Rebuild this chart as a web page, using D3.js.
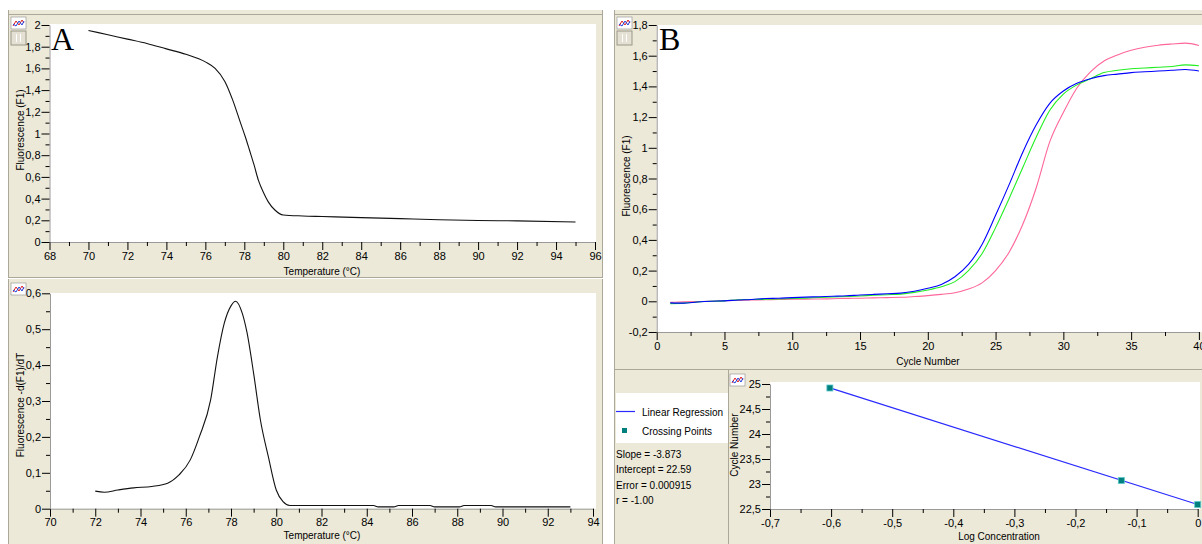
<!DOCTYPE html>
<html>
<head>
<meta charset="utf-8">
<script src="https://cdn.jsdelivr.net/npm/d3@7"></script>
<style>
body { margin: 0; background: #fff; }
svg { display: block; font-family: "Liberation Sans", Arial, sans-serif; }
</style>
</head>
<body>
<svg id="chart" width="1202" height="544"></svg>
<script>
// A (top): melt curve
const meltTemp  = [70, 71, 72, 73, 74, 75, 76, 76.5, 77, 77.4, 77.8, 78.05, 78.26, 78.5, 78.72, 79, 79.23, 79.57, 80, 81, 82, 84, 86, 88, 90, 92, 95];
const meltFluor = [1.95, 1.91, 1.87, 1.83, 1.78, 1.73, 1.66, 1.6, 1.48, 1.31, 1.10, 0.97, 0.85, 0.71, 0.57, 0.45, 0.37, 0.295, 0.249, 0.24, 0.235, 0.225, 0.215, 0.205, 0.198, 0.195, 0.185];

// A (bottom): melt peak -d(F1)/dT
const derivTemp  = [72, 72.4, 73, 73.7, 74.5, 75.2, 75.7, 76.2, 76.6, 77.1, 77.4, 77.7, 78.0, 78.2, 78.5, 78.7, 79.0, 79.3, 79.65, 80.0, 80.3, 80.6, 84.3, 84.5, 85.2, 85.4, 86.8, 87.0, 88.1, 88.3, 89.5, 89.7, 93];
const derivValue = [0.049, 0.046, 0.052, 0.058, 0.062, 0.071, 0.094, 0.136, 0.20, 0.303, 0.423, 0.516, 0.565, 0.578, 0.544, 0.493, 0.377, 0.247, 0.145, 0.052, 0.0195, 0.009, 0.009, 0.005, 0.005, 0.009, 0.009, 0.005, 0.005, 0.009, 0.009, 0.005, 0.005];

// B (top): amplification curves
const cycles = [1, 2, 3, 4, 5, 6, 7, 8, 9, 10, 11, 12, 13, 14, 15, 16, 17, 18, 19, 20,
                21, 22, 23, 24, 25, 26, 27, 28, 29, 30, 31, 32, 33, 34, 35, 36, 37, 38, 39, 40];
const ampBlue  = [-0.01, -0.012, -0.005, 0, 0.003, 0.008, 0.012, 0.018, 0.02, 0.024, 0.027, 0.03, 0.033, 0.036, 0.041, 0.045, 0.049, 0.053, 0.065, 0.085,
                  0.11, 0.16, 0.24, 0.37, 0.56, 0.76, 0.97, 1.15, 1.29, 1.37, 1.42, 1.45, 1.47, 1.48, 1.49, 1.495, 1.5, 1.505, 1.51, 1.5];
const ampGreen = [-0.015, -0.012, -0.005, 0, 0.003, 0.01, 0.012, 0.013, 0.015, 0.018, 0.021, 0.025, 0.028, 0.031, 0.035, 0.039, 0.043, 0.047, 0.058, 0.074,
                  0.095, 0.128, 0.2, 0.31, 0.48, 0.67, 0.87, 1.07, 1.245, 1.35, 1.41, 1.45, 1.49, 1.505, 1.515, 1.52, 1.525, 1.53, 1.54, 1.535];
const ampPink  = [-0.007, -0.004, -0.002, 0, 0.004, 0.006, 0.008, 0.01, 0.012, 0.013, 0.014, 0.015, 0.017, 0.019, 0.02, 0.022, 0.024, 0.026, 0.031, 0.037,
                  0.045, 0.056, 0.08, 0.12, 0.2, 0.32, 0.5, 0.74, 1.04, 1.23, 1.39, 1.495, 1.565, 1.605, 1.635, 1.655, 1.668, 1.676, 1.682, 1.667];

// B (bottom): standard curve
const logConc     = [-0.602, -0.125, 0];
const crossCycles = [24.92, 23.07, 22.59];
const slope = -3.873, intercept = 22.59;
const statLines = ["Slope = -3.873", "Intercept = 22.59", "Error = 0.000915", "r = -1.00"];

const beige = "#ece9d8", edge = "#aca899";
const loc = d3.formatLocale({decimal: ",", thousands: ".", grouping: [3], currency: ["", ""], minus: "-"});
const fmt = loc.format("~g");

const svg = d3.select("#chart");

// window frames
svg.append("rect").attr("x", 8).attr("y", 10).attr("width", 595).attr("height", 534).attr("fill", beige);
svg.append("rect").attr("x", 614).attr("y", 10).attr("width", 588).attr("height", 534).attr("fill", beige);
[[8.5, 10, 8.5, 544], [602.5, 10, 602.5, 544], [614.5, 10, 614.5, 544],
 [8, 14.5, 603, 14.5], [614, 14.5, 1202, 14.5],
 [8, 277.5, 603, 277.5], [614, 369.5, 1202, 369.5], [728.5, 370, 728.5, 544]]
  .forEach(([x1, y1, x2, y2]) => svg.append("line").attr("x1", x1).attr("y1", y1).attr("x2", x2).attr("y2", y2)
    .attr("stroke", edge).attr("stroke-width", 1));
svg.append("line").attr("x1", 8).attr("x2", 603).attr("y1", 278.5).attr("y2", 278.5).attr("stroke", "#fff");

function icon(x, y, withButton) {
  const g = svg.append("g").attr("transform", `translate(${x},${y})`);
  g.append("rect").attr("width", 15).attr("height", 12).attr("fill", "#fff").attr("stroke", "#8a8a8a").attr("stroke-width", 0.6);
  g.append("path").attr("d", "M2,9 L5,4 L8,8 L11,3 L13,6").attr("fill", "none").attr("stroke", "#e02020").attr("stroke-width", 1);
  g.append("path").attr("d", "M2,7 L5,9 L8,4 L11,8 L13,4").attr("fill", "none").attr("stroke", "#2040e0").attr("stroke-width", 1);
  if (withButton) {
    g.append("rect").attr("y", 14).attr("width", 15).attr("height", 14).attr("fill", "#e4e1d4").attr("stroke", "#9a9788");
    g.append("line").attr("x1", 5.5).attr("x2", 5.5).attr("y1", 17).attr("y2", 25).attr("stroke", "#fff");
    g.append("line").attr("x1", 9.5).attr("x2", 9.5).attr("y1", 17).attr("y2", 25).attr("stroke", "#fff");
  }
}

function panel(o) {
  const x = d3.scaleLinear().domain(o.xDomain).range(o.xRange);
  const y = d3.scaleLinear().domain(o.yDomain).range(o.yRange);
  svg.append("rect").attr("x", o.xRange[0]).attr("y", o.plotTop)
    .attr("width", o.plotRight - o.xRange[0]).attr("height", o.yRange[0] - o.plotTop).attr("fill", "#fff");

  const gx = svg.append("g").attr("transform", `translate(0,${o.yRange[0]})`)
    .call(d3.axisBottom(x).tickValues(o.xMajor).tickSize(8).tickSizeOuter(0).tickPadding(2).tickFormat(fmt));
  gx.append("g").call(d3.axisBottom(x).tickValues(o.xMinor).tickSize(4).tickFormat(""))
    .select(".domain").remove();
  const gy = svg.append("g").attr("transform", `translate(${o.xRange[0]},0)`)
    .call(d3.axisLeft(y).tickValues(o.yMajor).tickSize(8).tickSizeOuter(0).tickPadding(1).tickFormat(fmt));
  gy.append("g").call(d3.axisLeft(y).tickValues(o.yMinor).tickSize(4).tickFormat(""))
    .select(".domain").remove();
  [gx, gy].forEach(g => {
    g.selectAll(".domain").attr("stroke", "#9a9a9a");
    g.selectAll("line").attr("stroke", "#000");
    g.selectAll("text").attr("fill", "#000").style("font-size", "11px");
  });

  svg.append("text").attr("x", o.xTitle[0]).attr("y", o.xTitle[1]).attr("text-anchor", "middle")
    .style("font-size", "10px").text(o.xLabel);
  svg.append("text").attr("transform", `translate(${o.yTitle[0]},${o.yTitle[1]}) rotate(-90)`)
    .attr("text-anchor", "middle").attr("dominant-baseline", "central")
    .style("font-size", "10px").text(o.yLabel);
  return {x, y};
}

const line = (x, y) => d3.line().x(d => x(d[0])).y(d => y(d[1])).curve(d3.curveMonotoneX);

// ---- A top
const a1 = panel({
  xDomain: [68, 96], xRange: [49.5, 595], yDomain: [0, 2], yRange: [242, 25], plotTop: 24, plotRight: 596,
  xMajor: [68, 70, 72, 74, 76, 78, 80, 82, 84, 86, 88, 90, 92, 94, 96],
  xMinor: [69, 71, 73, 75, 77, 79, 81, 83, 85, 87, 89, 91, 93, 95],
  yMajor: [0, 0.2, 0.4, 0.6, 0.8, 1, 1.2, 1.4, 1.6, 1.8, 2],
  yMinor: [0.1, 0.3, 0.5, 0.7, 0.9, 1.1, 1.3, 1.5, 1.7, 1.9],
  xLabel: "Temperature (°C)", xTitle: [322, 275], yLabel: "Fluorescence (F1)", yTitle: [20, 130]
});
svg.append("path").datum(meltTemp.map((t, i) => [t, meltFluor[i]]))
  .attr("d", line(a1.x, a1.y)).attr("fill", "none").attr("stroke", "#111").attr("stroke-width", 1.1);

// ---- A bottom
const a2 = panel({
  xDomain: [70, 94], xRange: [50, 593], yDomain: [0, 0.6], yRange: [508.7, 293.3], plotTop: 293, plotRight: 596,
  xMajor: [70, 72, 74, 76, 78, 80, 82, 84, 86, 88, 90, 92, 94],
  xMinor: [71, 73, 75, 77, 79, 81, 83, 85, 87, 89, 91, 93],
  yMajor: [0, 0.1, 0.2, 0.3, 0.4, 0.5, 0.6],
  yMinor: [0.05, 0.15, 0.25, 0.35, 0.45, 0.55],
  xLabel: "Temperature (°C)", xTitle: [322, 539], yLabel: "Fluorescence -d(F1)/dT", yTitle: [20, 405]
});
svg.append("path").datum(derivTemp.map((t, i) => [t, derivValue[i]]))
  .attr("d", line(a2.x, a2.y)).attr("fill", "none").attr("stroke", "#111").attr("stroke-width", 1.1);

// ---- B top
const b1 = panel({
  xDomain: [0, 40], xRange: [656.7, 1198.9], yDomain: [-0.2, 1.8], yRange: [332, 25], plotTop: 25, plotRight: 1202,
  xMajor: [0, 5, 10, 15, 20, 25, 30, 35, 40],
  xMinor: [2.5, 7.5, 12.5, 17.5, 22.5, 27.5, 32.5, 37.5],
  yMajor: [-0.2, 0, 0.2, 0.4, 0.6, 0.8, 1, 1.2, 1.4, 1.6, 1.8],
  yMinor: [-0.1, 0.1, 0.3, 0.5, 0.7, 0.9, 1.1, 1.3, 1.5, 1.7],
  xLabel: "Cycle Number", xTitle: [928, 365], yLabel: "Fluorescence (F1)", yTitle: [626, 176]
});
[[ampPink, "#ff6699"], [ampGreen, "#22ee22"], [ampBlue, "#0000ff"]].forEach(([vals, c]) => {
  svg.append("path").datum(cycles.map((cy, i) => [cy, vals[i]]))
    .attr("d", line(b1.x, b1.y)).attr("fill", "none").attr("stroke", c).attr("stroke-width", 1.1);
});

// ---- B bottom
const b2 = panel({
  xDomain: [-0.7, 0], xRange: [770, 1197.7], yDomain: [22.5, 25], yRange: [509, 384], plotTop: 382, plotRight: 1200,
  xMajor: [-0.7, -0.6, -0.5, -0.4, -0.3, -0.2, -0.1, 0],
  xMinor: [-0.65, -0.55, -0.45, -0.35, -0.25, -0.15, -0.05],
  yMajor: [22.5, 23, 23.5, 24, 24.5, 25],
  yMinor: [22.75, 23.25, 23.75, 24.25, 24.75],
  xLabel: "Log Concentration", xTitle: [999, 540], yLabel: "Cycle Number", yTitle: [734, 445]
});
const xFit = d3.extent(logConc);
svg.append("path").datum(xFit.map(v => [v, intercept + slope * v]))
  .attr("d", line(b2.x, b2.y)).attr("fill", "none").attr("stroke", "#2a2aff").attr("stroke-width", 1.2);
svg.selectAll("rect.pt").data(logConc.map((v, i) => [v, crossCycles[i]])).join("rect")
  .attr("class", "pt")
  .attr("x", d => b2.x(d[0]) - 3).attr("y", d => b2.y(d[1]) - 3)
  .attr("width", 6).attr("height", 6).attr("fill", "#007f7f").attr("stroke", "#5cc8c8").attr("stroke-width", 0.8);

// legend + stats
svg.append("rect").attr("x", 616).attr("y", 393).attr("width", 112).attr("height", 50).attr("fill", "#fff");
svg.append("line").attr("x1", 616).attr("x2", 635).attr("y1", 411.5).attr("y2", 411.5).attr("stroke", "#2a2aff").attr("stroke-width", 1.2);
svg.append("text").attr("x", 642).attr("y", 415.5).style("font-size", "10px").text("Linear Regression");
svg.append("rect").attr("x", 622).attr("y", 428).attr("width", 5).attr("height", 5).attr("fill", "#007f7f");
svg.append("text").attr("x", 642).attr("y", 434.5).style("font-size", "10px").text("Crossing Points");
svg.selectAll("text.stat").data(statLines).join("text").attr("class", "stat")
  .attr("x", 616).attr("y", (d, i) => 458 + i * 15.3).style("font-size", "10px").text(d => d);

// panel letters and icons
svg.append("text").attr("x", 51).attr("y", 50).style("font-family", "'Liberation Serif', 'Times New Roman', serif")
  .style("font-size", "32px").text("A");
svg.append("text").attr("x", 659).attr("y", 50).style("font-family", "'Liberation Serif', 'Times New Roman', serif")
  .style("font-size", "32px").text("B");
icon(11, 17, true);
icon(11, 283, false);
icon(617, 17, true);
icon(730, 374, false);
</script>
</body>
</html>
